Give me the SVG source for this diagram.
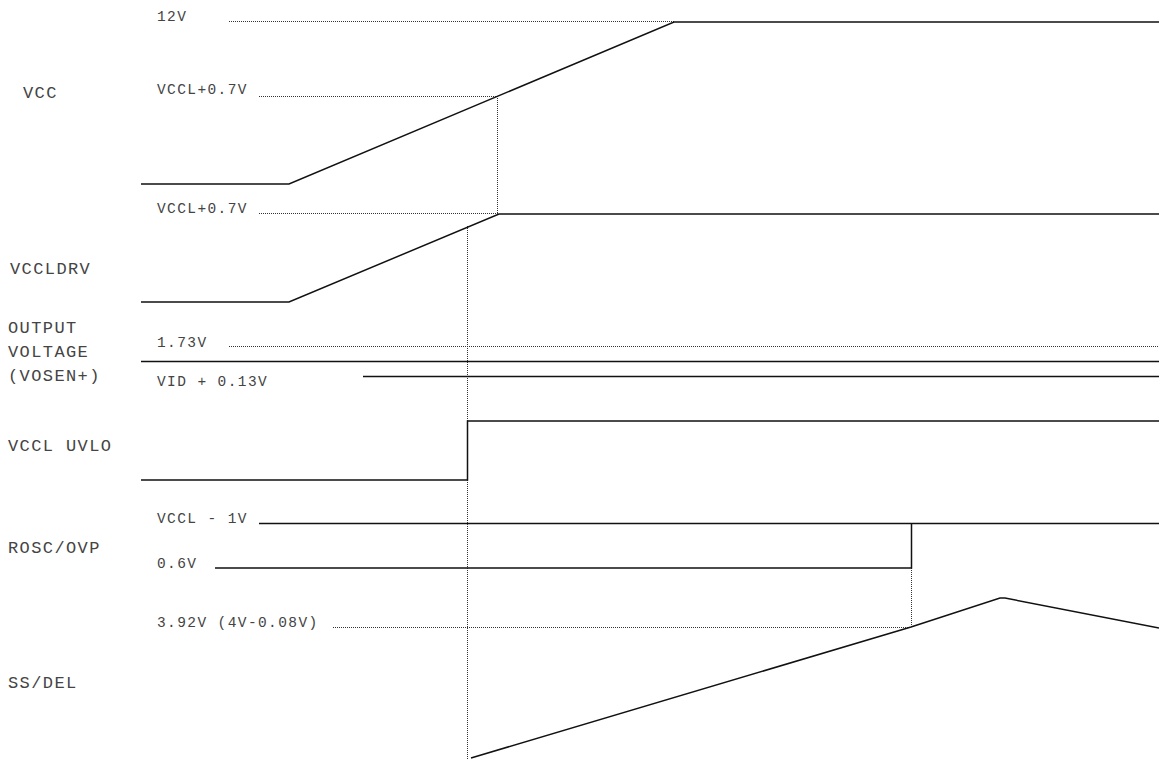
<svg xmlns="http://www.w3.org/2000/svg" width="1159" height="759" viewBox="0 0 1159 759">
<style>
.bg{fill:#fff}
.sig{fill:none;stroke:#111;stroke-width:1.5;stroke-linejoin:miter}
.guide{fill:none;stroke:#333;stroke-width:1;stroke-dasharray:1 1}
.lbl{font-family:"Liberation Mono","Courier New",monospace;font-size:17px;letter-spacing:1.4px;fill:#444}
.lvl{font-family:"Liberation Mono","Courier New",monospace;font-size:14.5px;letter-spacing:1.4px;fill:#444}
</style>
<rect class="bg" x="0" y="0" width="1159" height="759"/>
<g id="guides">
<line class="guide" x1="229" y1="21.5" x2="674" y2="21.5"/>
<line class="guide" x1="259" y1="96.5" x2="497" y2="96.5"/>
<line class="guide" x1="497.5" y1="96" x2="497.5" y2="214"/>
<line class="guide" x1="259" y1="213.5" x2="499" y2="213.5"/>
<line class="guide" x1="467.5" y1="226" x2="467.5" y2="759"/>
<line class="guide" x1="229" y1="346.5" x2="1159" y2="346.5"/>
<line class="guide" x1="333" y1="627.5" x2="911" y2="627.5"/>
<line class="guide" x1="911.5" y1="568" x2="911.5" y2="627"/>
</g>
<g id="vcc">
<text class="lbl" x="23" y="98">VCC</text>
<text class="lvl" x="157" y="21">12V</text>
<text class="lvl" x="157" y="94">VCCL+0.7V</text>
<polyline class="sig" points="141,184 289,184 674,22 1159,22"/>
</g>
<g id="vccldrv">
<text class="lbl" x="10" y="274">VCCLDRV</text>
<text class="lvl" x="157" y="213">VCCL+0.7V</text>
<polyline class="sig" points="141,302 289,302 499,214 1159,214"/>
</g>
<g id="output-voltage">
<text class="lbl" x="8" y="333">OUTPUT</text>
<text class="lbl" x="8" y="357">VOLTAGE</text>
<text class="lbl" x="8" y="381">(VOSEN+)</text>
<text class="lvl" x="157" y="347">1.73V</text>
<text class="lvl" x="157" y="386">VID + 0.13V</text>
<line class="sig" x1="141" y1="361.5" x2="1159" y2="361.5"/>
<line class="sig" x1="363" y1="376.5" x2="1159" y2="376.5"/>
</g>
<g id="vccl-uvlo">
<text class="lbl" x="8" y="451">VCCL UVLO</text>
<polyline class="sig" points="141,480 467.5,480 467.5,421 1159,421"/>
</g>
<g id="rosc-ovp">
<text class="lbl" x="8" y="553">ROSC/OVP</text>
<text class="lvl" x="157" y="523">VCCL - 1V</text>
<text class="lvl" x="157" y="568">0.6V</text>
<line class="sig" x1="259" y1="523.5" x2="1159" y2="523.5"/>
<polyline class="sig" points="215,568 911.5,568 911.5,523.5"/>
</g>
<g id="ss-del">
<text class="lbl" x="8" y="688">SS/DEL</text>
<text class="lvl" x="157" y="627">3.92V (4V-0.08V)</text>
<polyline class="sig" points="471,758 911,627 1000,598 1005,598 1159,628"/>
</g>
</svg>
